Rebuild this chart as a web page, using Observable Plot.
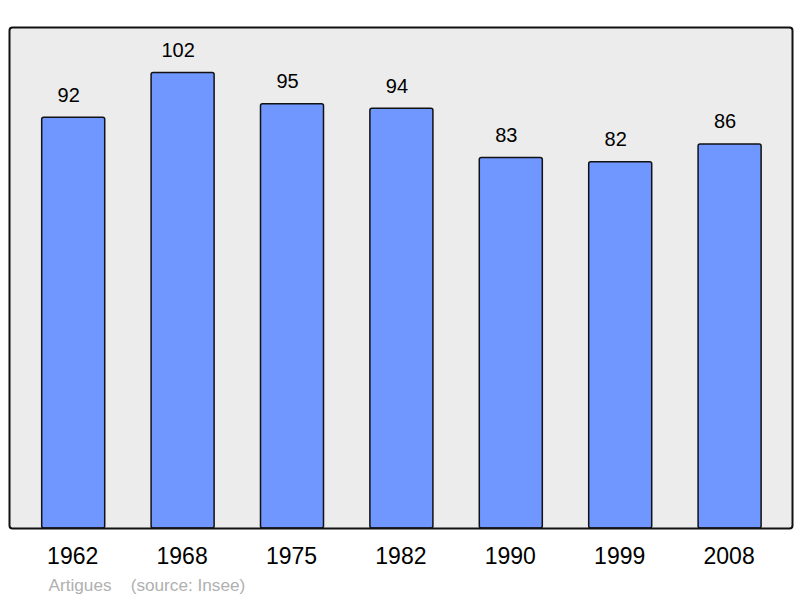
<!DOCTYPE html>
<html>
<head>
<meta charset="utf-8">
<script src="https://cdn.jsdelivr.net/npm/d3@7"></script>
<script src="https://cdn.jsdelivr.net/npm/@observablehq/plot@0.6"></script>
<style>
  html, body { margin: 0; padding: 0; background: #fff; }
  #chart svg { display: block; }
</style>
</head>
<body>
<div id="chart"></div>
<script>
const years = ["1962", "1968", "1975", "1982", "1990", "1999", "2008"];
const population = [92, 102, 95, 94, 83, 82, 86];
const caption = "Artigues    (source: Insee)";

const data = years.map((y, i) => ({year: y, value: population[i]}));

const chart = Plot.plot({
  width: 800,
  height: 598,
  marginTop: 27,
  marginBottom: 70,
  marginLeft: 9,
  marginRight: 8,
  style: {fontFamily: "'Liberation Sans', Arial, sans-serif", background: "#fff"},
  x: {domain: years, range: [18.5, 784.3], paddingInner: 0.424, paddingOuter: 0.212, round: false, label: null},
  y: {domain: [0, 112.2], axis: null},
  marks: [
    Plot.frame({fill: "#ececec", stroke: "none"}),
    Plot.barY(data, {x: "year", y: "value", fill: "#7096ff", stroke: "#111", strokeWidth: 1.5, rx: 2}),
    Plot.frame({stroke: "#111", strokeWidth: 2, rx: 3}),
    Plot.text(data, {x: "year", y: "value", text: d => String(d.value), lineAnchor: "bottom", dx: -5, dy: -16, fontSize: 20, fill: "#000"}),
    Plot.axisX({tickSize: 0, tickPadding: 19, fontSize: 23, dx: -1, color: "#000", label: null}),
    Plot.text([caption], {frameAnchor: "bottom-left", dx: 39, dy: 62, lineAnchor: "bottom", textAnchor: "start", fontSize: 17.2, fill: "#b0b0b0", text: d => d})
  ]
});
document.getElementById("chart").appendChild(chart);
</script>
</body>
</html>
